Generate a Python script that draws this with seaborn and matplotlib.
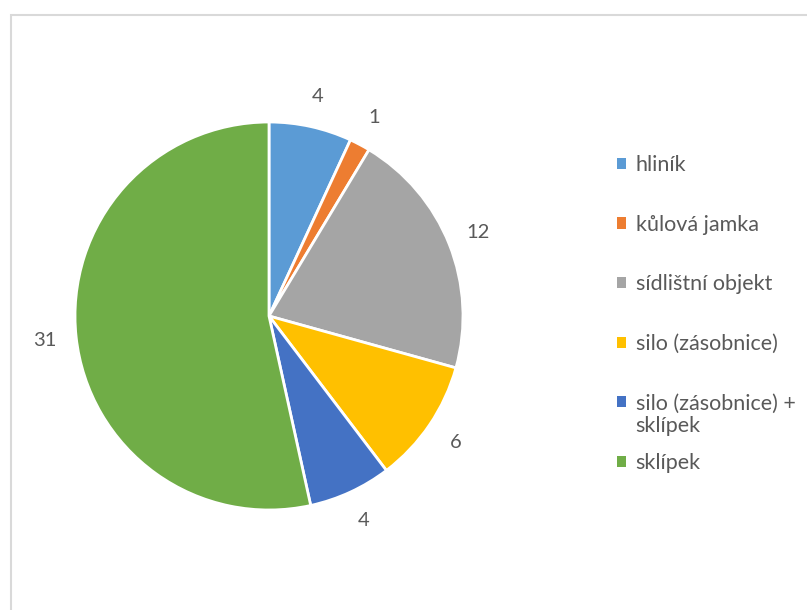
import matplotlib
matplotlib.use("Agg")
import matplotlib.pyplot as plt
import seaborn as sns
from matplotlib.patches import Rectangle, Patch

# data
categories = ["hliník", "kůlová jamka", "sídlištní objekt", "silo (zásobnice)",
              "silo (zásobnice) + sklípek", "sklípek"]
counts = [4, 1, 12, 6, 4, 31]
colors = ["#5B9BD5", "#ED7D31", "#A5A5A5", "#FFC000", "#4472C4", "#70AD47"]

sns.set_theme(style="white")
plt.rcParams["font.family"] = ["Lato", "DejaVu Sans"]
text_color = "#595959"

fig = plt.figure(figsize=(8.07, 6.10), dpi=100)
W, H = 807, 610

# chart frame (light gray border like the Excel chart area)
fig.patches.append(Rectangle((11 / W, -0.05), 1.2, (H - 15) / H + 0.05,
                             transform=fig.transFigure, fill=False,
                             edgecolor="#D9D9D9", linewidth=1.5))

cx, cy, r = 269, 316, 194
ax = fig.add_axes([(cx - r) / W, (H - cy - r) / H, 2 * r / W, 2 * r / H])
wedges, texts = ax.pie(counts, labels=[str(v) for v in counts], colors=colors,
                       startangle=90, counterclock=False, radius=1,
                       labeldistance=1.16,
                       wedgeprops=dict(edgecolor="white", linewidth=2),
                       textprops=dict(color=text_color, fontsize=14.5))
for t in texts:
    t.set_ha("center")
    t.set_va("center")
ax.set_xlim(-1, 1)
ax.set_ylim(-1, 1)
ax.set_aspect("equal")
ax.axis("off")

# legend: wrap the long label onto a second line
handles = [Patch(facecolor=c, edgecolor="none") for c in colors]
leg_labels = [c.replace(" + ", " +\n") if "+" in c else c for c in categories]
first_lines = [l.split("\n")[0] for l in leg_labels]
leg = fig.legend(handles, first_lines, loc="upper left",
                 bbox_to_anchor=(617 / W, (H - 155) / H), frameon=False,
                 fontsize=15.5, labelcolor=text_color, handlelength=0.42,
                 handleheight=0.42, handletextpad=0.45, labelspacing=1.84,
                 borderpad=0, borderaxespad=0)
fig.canvas.draw()
for txt, full in zip(leg.get_texts(), leg_labels):
    if "\n" in full:
        bb = txt.get_window_extent()
        fig.text(bb.x0 / W, (bb.y0 - 23) / H, full.split("\n")[1],
                 color=text_color, fontsize=15.5, ha="left", va="bottom")

fig.savefig("out.png", dpi=100)
